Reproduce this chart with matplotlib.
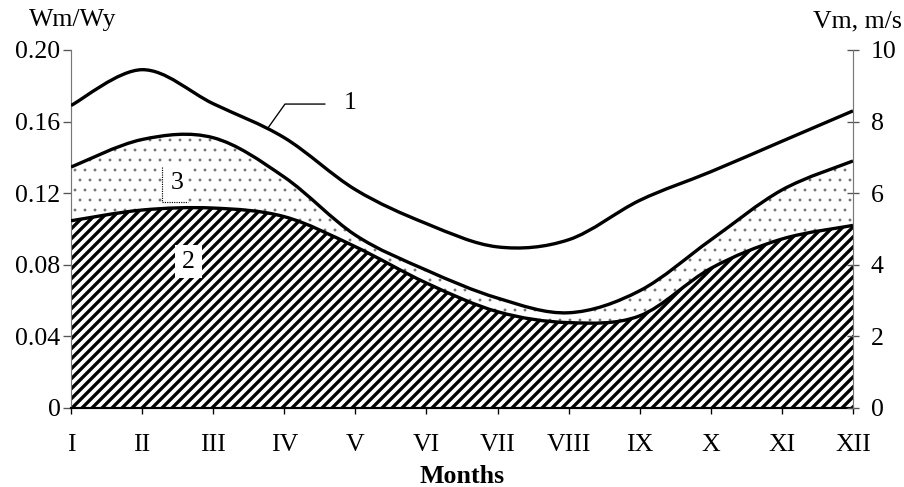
import numpy as np
import matplotlib
matplotlib.use('Agg')
import matplotlib.pyplot as plt
from matplotlib.path import Path
from matplotlib.patches import PathPatch, Rectangle

plt.rcParams['font.family'] = ['Liberation Serif', 'DejaVu Serif']
plt.rcParams['font.size'] = 15.5

# monthly values (left axis units, Wm/Wy)
months = ['I', 'II', 'III', 'IV', 'V', 'VI', 'VII', 'VIII', 'IX', 'X', 'XI', 'XII']
curve_1 = [0.169, 0.189, 0.170, 0.151, 0.122, 0.103, 0.090, 0.094, 0.116, 0.132, 0.149, 0.166]
curve_3 = [0.1346, 0.150, 0.151, 0.129, 0.0966, 0.077, 0.0614, 0.0532, 0.0655, 0.0939, 0.1218, 0.138]
curve_2 = [0.1046, 0.1106, 0.1117, 0.1069, 0.0901, 0.0698, 0.0538, 0.0477, 0.0515, 0.078, 0.0944, 0.102]

left_ticks = [0, 0.04, 0.08, 0.12, 0.16, 0.20]
left_labels = ['0', '0.04', '0.08', '0.12', '0.16', '0.20']
right_ticks = [0, 2, 4, 6, 8, 10]


def bezier_segments(y):
    """Excel-style smoothed line: cubic Bezier control points per segment."""
    x = np.arange(len(y), dtype=float)
    p = np.column_stack([x, np.asarray(y, dtype=float)])
    pad = np.vstack([p[0], p, p[-1]])
    segs = []
    for i in range(len(p) - 1):
        p0, p1 = pad[i + 1], pad[i + 2]
        c1 = p0 + (pad[i + 2] - pad[i]) / 6.0
        c2 = p1 - (pad[i + 3] - pad[i + 1]) / 6.0
        segs.append((p0, c1, c2, p1))
    return segs


def curve_path(y):
    segs = bezier_segments(y)
    verts = [segs[0][0]]
    codes = [Path.MOVETO]
    for s in segs:
        verts += [s[1], s[2], s[3]]
        codes += [Path.CURVE4] * 3
    return Path(verts, codes)


def band_path(upper, lower):
    up = bezier_segments(upper)
    lo = bezier_segments(lower)
    verts = [up[0][0]]
    codes = [Path.MOVETO]
    for s in up:
        verts += [s[1], s[2], s[3]]
        codes += [Path.CURVE4] * 3
    verts.append(lo[-1][3])
    codes.append(Path.LINETO)
    for s in reversed(lo):
        verts += [s[2], s[1], s[0]]
        codes += [Path.CURVE4] * 3
    verts.append(up[0][0])
    codes.append(Path.CLOSEPOLY)
    return Path(verts, codes)


fig = plt.figure(figsize=(904 / 120, 487 / 120), dpi=120)
ax = fig.add_axes([71 / 904, 79 / 487, (853 - 71) / 904, (408 - 50) / 487])
ax.set_xlim(0, len(months) - 1)
ax.set_ylim(0, 0.20)

zeros = [0.0] * len(months)

dots = PathPatch(band_path(curve_3, curve_2), facecolor='white', edgecolor='#707070',
                 hatch='..', linewidth=0, zorder=1)
if hasattr(dots, 'set_hatch_linewidth'):
    dots.set_hatch_linewidth(0.5)
ax.add_patch(dots)

stripes = PathPatch(band_path(curve_2, zeros), facecolor='white', edgecolor='black',
                    hatch='////', linewidth=0, zorder=2)
if hasattr(stripes, 'set_hatch_linewidth'):
    stripes.set_hatch_linewidth(2.0)
else:
    plt.rcParams['hatch.linewidth'] = 2.0
ax.add_patch(stripes)

for c in (curve_1, curve_3, curve_2):
    ax.add_patch(PathPatch(curve_path(c), facecolor='none', edgecolor='black',
                           linewidth=2.0, zorder=3, capstyle='butt'))

# curve labels
ax.plot([2.77, 3.01, 3.57], [0.1564, 0.1698, 0.1698], color='black', lw=0.8, zorder=4)
ax.text(3.92, 0.1704, '1', ha='center', va='center', zorder=5)

ax.add_patch(Rectangle((1.28, 0.1151), 0.365, 0.0195, facecolor='white',
                       edgecolor='none', zorder=4))
ax.plot([1.28, 1.28, 1.645], [0.1346, 0.1151, 0.1151], color='black', lw=0.7,
        ls=(0, (1, 1)), zorder=5)
ax.text(1.495, 0.1255, '3', ha='center', va='center', zorder=5)

ax.add_patch(Rectangle((1.463, 0.0726), 0.379, 0.0185, facecolor='white',
                       edgecolor='none', zorder=4))
ax.text(1.653, 0.0816, '2', ha='center', va='center', zorder=5)

# axes styling
ax.set_xticks(range(len(months)))
ax.set_xticklabels(months)
ax.set_yticks(left_ticks)
ax.set_yticklabels(left_labels)
ax.tick_params(axis='x', direction='out', length=3.6, width=0.8, pad=12)
ax.tick_params(axis='y', direction='out', length=4.8, width=0.8, pad=1.5, color='#555555')
ax.spines['top'].set_visible(False)
ax.spines['right'].set_visible(False)
ax.spines['left'].set_color('#777777')
ax.spines['left'].set_linewidth(0.7)
ax.spines['bottom'].set_linewidth(1.3)
ax.spines['bottom'].set_zorder(6)

ax2 = ax.twinx()
ax2.set_ylim(0, 10)
ax2.set_yticks(right_ticks)
ax2.tick_params(axis='y', direction='inout', length=7, width=0.8, pad=7, color='#555555')
for s in ('top', 'left', 'bottom'):
    ax2.spines[s].set_visible(False)
ax2.spines['right'].set_color('#777777')
ax2.spines['right'].set_linewidth(0.7)

fig.text(72.5 / 904, 1 - 26 / 487, 'Wm/Wy', ha='center', va='baseline')
fig.text(857 / 904, 1 - 27 / 487, 'Vm, m/s', ha='center', va='baseline')
fig.text(462 / 904, 1 - 483 / 487, 'Months', ha='center', va='baseline', fontweight='bold')

fig.savefig('out.png', dpi=120)
